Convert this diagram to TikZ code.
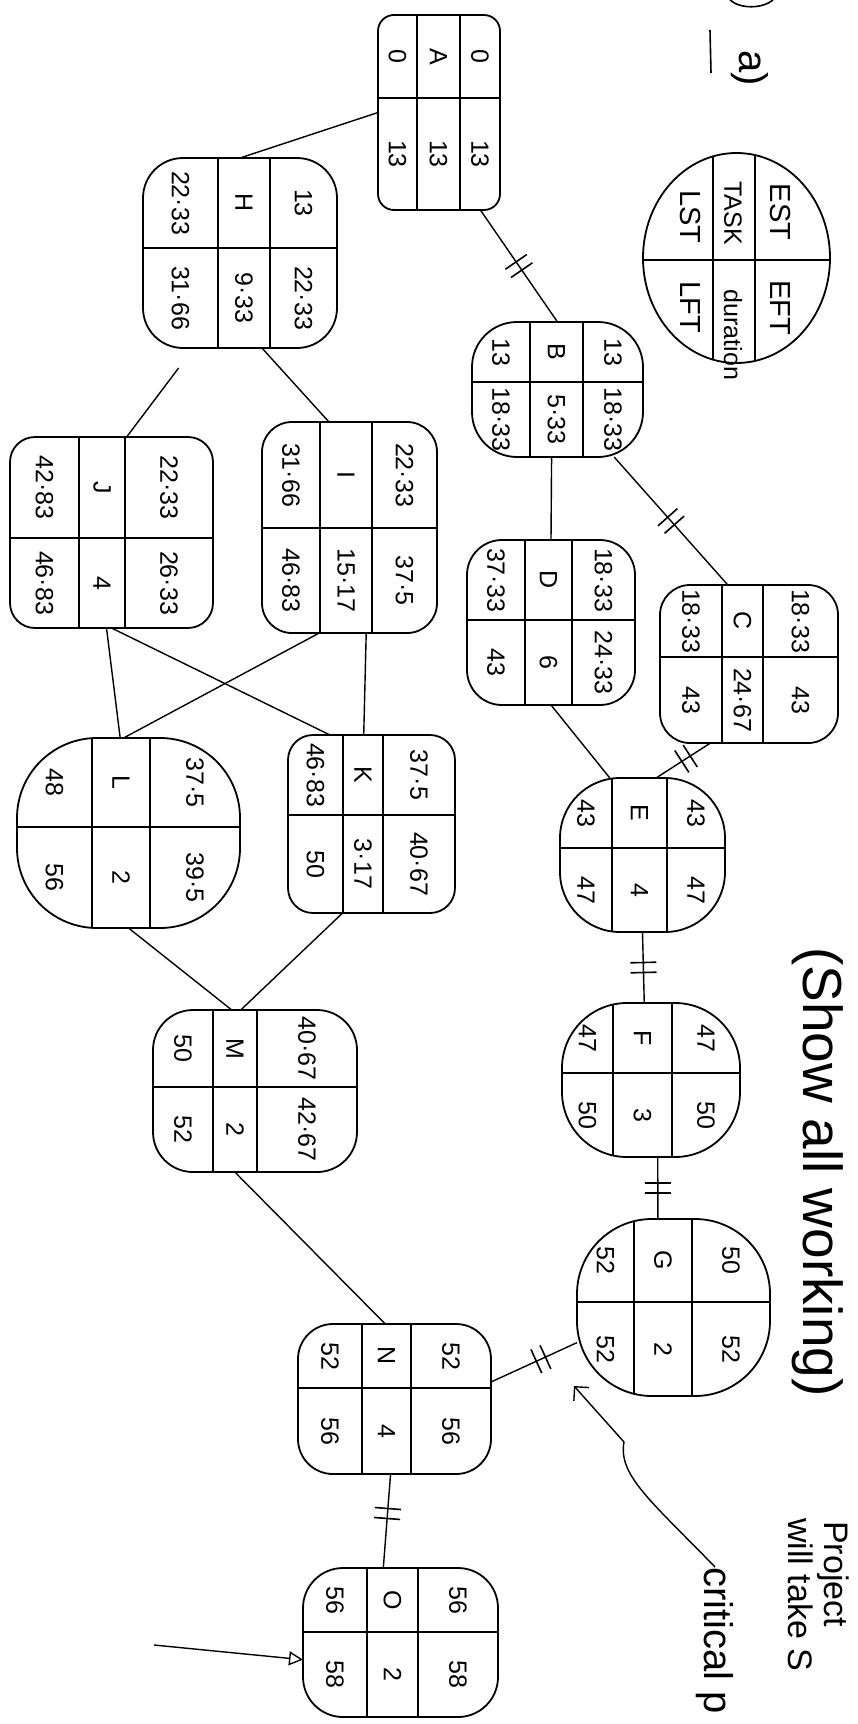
\documentclass[tikz,border=0pt]{standalone}
\usepackage{fontspec}
\setmainfont{Liberation Sans}
\usetikzlibrary{calc,shapes.geometric,arrows.meta,decorations.markings}
\newcommand\tbox[9]{%
 \node[cellbox, #9, minimum width={(#4-#2)*1pt}, minimum height={(#5-#3)*1pt},
  path picture={
   \draw[line width=1.6pt]
     ($(path picture bounding box.north west)!{(#6-#3)/(#5-#3)}!(path picture bounding box.south west)$) --
     ($(path picture bounding box.north east)!{(#6-#3)/(#5-#3)}!(path picture bounding box.south east)$)
     ($(path picture bounding box.north west)!{(#7-#2)/(#4-#2)}!(path picture bounding box.north east)$) --
     ($(path picture bounding box.south west)!{(#7-#2)/(#4-#2)}!(path picture bounding box.south east)$)
     ($(path picture bounding box.north west)!{(#8-#2)/(#4-#2)}!(path picture bounding box.north east)$) --
     ($(path picture bounding box.south west)!{(#8-#2)/(#4-#2)}!(path picture bounding box.south east)$);
  }] (#1) at ({(#2+#4)/2},{(#3+#5)/2}) {};
 \coordinate (#1-1) at ({(#8+#4)/2},{(#3+#6)/2});
 \coordinate (#1-2) at ({(#7+#8)/2},{(#3+#6)/2});
 \coordinate (#1-3) at ({(#2+#7)/2},{(#3+#6)/2});
 \coordinate (#1-4) at ({(#8+#4)/2},{(#6+#5)/2});
 \coordinate (#1-5) at ({(#7+#8)/2},{(#6+#5)/2});
 \coordinate (#1-6) at ({(#2+#7)/2},{(#6+#5)/2});
}
\newcommand\tcells[7]{%
 \node[txt] (#1-t1) at (#1-1) {#2};
 \node[txt] (#1-t2) at (#1-2) {#3};
 \node[txt] (#1-t3) at (#1-3) {#4};
 \node[txt] (#1-t4) at (#1-4) {#5};
 \node[txt] (#1-t5) at (#1-5) {#6};
 \node[txt] (#1-t6) at (#1-6) {#7};
}
\begin{document}
\begin{tikzpicture}[x=1pt,y=-1pt,
  cellbox/.style={draw, line width=1.8pt, inner sep=0pt, outer sep=0pt, rounded corners=25pt},
  txt/.style={rotate=-90, inner sep=0pt, font=\fontsize{25}{25}\selectfont},
  keyt/.style={rotate=-90, inner sep=0pt, font=\fontsize{29}{29}\selectfont},
  lbl/.style={rotate=-90, inner sep=0pt, font=\fontsize{40}{40}\selectfont},
  conn/.style={line width=1.4pt},
  crit/.style={conn, postaction={decorate, decoration={markings, mark=at position #1 with {\draw[line width=1.6pt] (-5pt,-13pt)--(-5pt,13pt) (5pt,-13pt)--(5pt,13pt);}}}},
  crit/.default=0.5,
]
\path[use as bounding box, fill=white] (0,0) rectangle (858,1724);

% key
\tbox{key}{643}{153}{830}{363}{260}{713}{755}{ellipse}
\node[keyt] (kEST) at (780,212) {EST};
\node[keyt, font=\fontsize{25}{25}\selectfont] (kTASK) at (733,213) {TASK};
\node[keyt] (kLST) at (690,217) {LST};
\node[keyt] (kEFT) at (780,308) {EFT};
\node[keyt, font=\fontsize{25}{25}\selectfont] (kdur) at (733,335) {duration};
\node[keyt] (kLFT) at (690,307) {LFT};

% activity nodes
\tbox{A}{378}{15}{500}{210}{98}{417}{460}{rounded corners=16pt}
\tcells{A}{0}{A}{0}{13}{13}{13}
\tbox{H}{143}{158}{337}{348}{248}{218}{270}{rounded corners=40pt}
\tcells{H}{13}{H}{22·33}{22·33}{9·33}{31·66}
\tbox{B}{472}{322}{643}{457}{382}{530}{583}{rounded corners=45pt}
\tcells{B}{13}{B}{13}{18·33}{5·33}{18·33}
\tbox{C}{660}{585}{838}{743}{657}{722}{763}{rounded corners=30pt}
\tcells{C}{18·33}{C}{18·33}{43}{24·67}{43}
\tbox{D}{467}{540}{635}{705}{620}{525}{572}{rounded corners=35pt}
\tcells{D}{18·33}{D}{37·33}{24·33}{6}{43}
\tbox{E}{560}{778}{725}{932}{848}{612}{667}{rounded corners=60pt}
\tcells{E}{43}{E}{43}{47}{4}{47}
\tbox{F}{562}{1003}{740}{1157}{1073}{613}{672}{rounded corners=65pt}
\tcells{F}{47}{F}{47}{50}{3}{50}
\tbox{G}{577}{1219}{770}{1396}{1302}{634}{692}{rounded corners=75pt}
\tcells{G}{50}{G}{52}{52}{2}{52}
\tbox{N}{298}{1324}{491}{1474}{1388}{362}{411}{rounded corners=35pt}
\tcells{N}{52}{N}{52}{56}{4}{56}
\tbox{O}{303}{1568}{498}{1717}{1632}{367}{418}{rounded corners=40pt}
\tcells{O}{56}{O}{56}{58}{2}{58}
\tbox{M}{153}{1010}{357}{1172}{1087}{213}{257}{rounded corners=40pt}
\tcells{M}{40·67}{M}{50}{42·67}{2}{52}
\tbox{L}{17}{738}{240}{928}{827}{92}{150}{rounded corners=80pt}
\tcells{L}{37·5}{L}{48}{39·5}{2}{56}
\tbox{K}{288}{735}{455}{913}{815}{343}{383}{rounded corners=25pt}
\tcells{K}{37·5}{K}{46·83}{40·67}{3·17}{50}
\tbox{J}{10}{437}{213}{628}{538}{79}{125}{rounded corners=25pt}
\tcells{J}{22·33}{J}{42·83}{26·33}{4}{46·83}
\tbox{I}{262}{422}{437}{633}{528}{320}{372}{rounded corners=30pt}
\tcells{I}{22·33}{I}{31·66}{37·5}{15·17}{46·83}

% connectors
\draw[conn] (A.west) -- (H.north);
\draw[crit] (A.-67) -- (B.north);
\draw[crit] (B.-50) -- (C.105);
\draw[conn] (B.-95) -- (D.north);
\draw[crit=0.45] (C.-116) -- (E.80);
\draw[conn] (D.south) -- (E.113);
\draw[crit] (E.south) -- (F.95);
\draw[crit] (F.-85) -- (G.100);
\draw[crit=0.42] (G.-160) -- (N.10);
\draw[crit=0.42] (N.-93) -- (O.103);
\draw[conn, shorten <=25pt] (H.-116) -- (J.81);
\draw[conn] (H.-77) -- (I.101);
\draw[conn] (I.-106) -- (L.93);
\draw[conn] (J.south) -- (K.115);
\draw[conn] (J.-93) -- (L.95);
\draw[conn] (I.-81) -- (K.95);
\draw[conn] (L.south) -- (M.106);
\draw[conn] (K.-108) -- (M.100);
\draw[conn] (M.-104) -- (N.97);

% annotations
\node[lbl] (qa) at (750,68) {a)};
\draw[line width=1.6pt] (710,30) -- (711,73);
\draw[line width=1.6pt] (730,0) .. controls (740,9) and (762,9) .. (773,0);
\node[lbl, font=\fontsize{55}{55}\selectfont] (saw) at (818,1172) {(Show all working)};
\node[lbl, anchor=west] (cp) at (715,1567) {critical p};
\coordinate (cptip) at (574,1386);
\draw[conn, -{Straight Barb[length=10pt,width=20pt]}] (cp.west) .. controls (650,1500) and (618,1475) .. (624,1442) -- (cptip);
\node[lbl, anchor=west, font=\fontsize{34}{34}\selectfont] (proj) at (833,1521) {Project};
\node[lbl, anchor=west, font=\fontsize{34}{34}\selectfont] (proj2) at (801,1518) {will take S};
\coordinate (pstart) at (154,1645);
\draw[conn, -{Triangle[open,length=14pt,width=14pt]}] (pstart) -- (O.-170);
\end{tikzpicture}
\end{document}
